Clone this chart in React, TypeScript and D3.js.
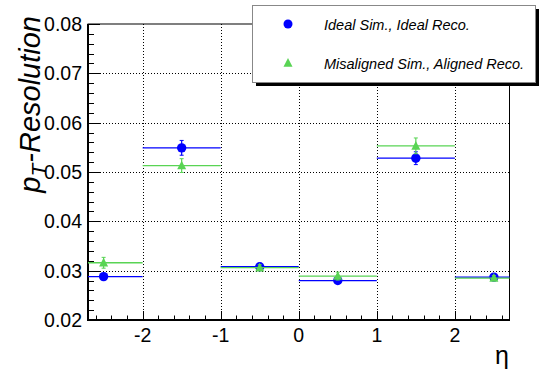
import React from "react";
import * as d3 from "d3";

// eta bins (centre, full width 1) and the two resolution series
const etaCenters = [-2.5, -1.5, -0.5, 0.5, 1.5, 2.5];
const binWidth = 1;
const idealValues = [0.0288, 0.0549, 0.0308, 0.028, 0.0528, 0.0287];
const idealErrors = [0.0005, 0.0015, 0.0005, 0.0005, 0.0013, 0.0004];
const misalignedValues = [0.0316, 0.0513, 0.0306, 0.0289, 0.0553, 0.0285];
const misalignedErrors = [0.0011, 0.0014, 0.0006, 0.0008, 0.0016, 0.0005];

const xTicks = [-2, -1, 0, 1, 2];
const yTicks = [0.02, 0.03, 0.04, 0.05, 0.06, 0.07, 0.08];
const legendLabels = ["Ideal Sim., Ideal Reco.", "Misaligned Sim., Aligned Reco."];

const W = 539;
const H = 380;
const FONT = "'Liberation Sans', Arial, Helvetica, sans-serif";
const BLUE = "#0000ff";
const GREEN = "#59d454";

export default function App() {
  const x = d3.scaleLinear().domain([-2.7, 2.7]).range([88, 509.5]);
  const y = d3.scaleLinear().domain([0.02, 0.08]).range([320, 24]);
  const [x0, x1] = x.range();
  const [y0, y1] = y.range();

  const xMinor = d3.range(-2.6, 2.7, 0.2).map((v) => +v.toFixed(2));
  const yMinor = d3.range(0.02, 0.0801, 0.002).map((v) => +v.toFixed(4));

  const triangle = (cx: number, cy: number, s = 9) =>
    `M${cx},${cy - s * 0.55} L${cx + s / 2},${cy + s * 0.42} L${cx - s / 2},${cy + s * 0.42} Z`;

  const series = [
    { values: idealValues, errors: idealErrors, color: BLUE, marker: "circle" },
    { values: misalignedValues, errors: misalignedErrors, color: GREEN, marker: "triangle" },
  ];

  const clampX = (v: number) => Math.max(x0, Math.min(x1, v));

  return (
    <svg
      width={W}
      height={H}
      style={{ position: "absolute", left: 0, top: 0, background: "#fff" }}
      fontFamily={FONT}
    >
      <rect x={0} y={0} width={W} height={H} fill="#fff" />

      {/* dotted grid */}
      <g stroke="#000" strokeWidth={1} strokeDasharray="1,2">
        {xTicks.map((t) => (
          <line key={"gx" + t} x1={Math.round(x(t)) + 0.5} x2={Math.round(x(t)) + 0.5} y1={y1} y2={y0} />
        ))}
        {yTicks.slice(1, -1).map((t) => (
          <line key={"gy" + t} x1={x0} x2={x1} y1={Math.round(y(t)) + 0.5} y2={Math.round(y(t)) + 0.5} />
        ))}
      </g>

      {/* frame */}
      <rect x={x0} y={y1} width={x1 - x0} height={y0 - y1} fill="none" stroke="#000" strokeWidth={1} />
      <line x1={x0} x2={x0} y1={y1} y2={y0 + 1} stroke="#000" strokeWidth={2} />
      <line x1={x0 - 1} x2={x1 + 0.5} y1={y0} y2={y0} stroke="#000" strokeWidth={2} />

      {/* ticks */}
      <g stroke="#000" strokeWidth={1}>
        {yMinor.map((t) => {
          const major = yTicks.some((m) => Math.abs(m - t) < 1e-6);
          const yy = Math.round(y(t)) + 0.5;
          return <line key={"ty" + t} x1={x0} x2={x0 + (major ? 12 : 6)} y1={yy} y2={yy} />;
        })}
        {xMinor.map((t) => {
          const major = xTicks.some((m) => Math.abs(m - t) < 1e-6);
          const xx = Math.round(x(t)) + 0.5;
          return <line key={"tx" + t} x1={xx} x2={xx} y1={y0} y2={y0 - (major ? 9 : 4.5)} />;
        })}
      </g>

      {/* tick labels */}
      <g fontSize={19.5} fill="#000">
        {yTicks.map((t) => (
          <text key={"ly" + t} x={82} y={y(t) + 7} textAnchor="end">
            {t.toFixed(2)}
          </text>
        ))}
        {xTicks.map((t) => (
          <text key={"lx" + t} x={x(t)} y={342} textAnchor="middle">
            {t < 0 ? "-" + Math.abs(t) : String(t)}
          </text>
        ))}
      </g>

      {/* axis titles */}
      <text x={509} y={364} textAnchor="end" fontSize={25} fill="#000">
        η
      </text>
      <text
        transform="translate(40,16) rotate(-90)"
        textAnchor="end"
        fontSize={29}
        fontStyle="italic"
        fill="#000"
      >
        <tspan>p</tspan>
        <tspan dy={6} fontSize={21}>
          T
        </tspan>
        <tspan dy={-6} dx={1}>-Resolution</tspan>
      </text>

      {/* data */}
      {series.map((s, si) => (
        <g key={"s" + si}>
          {etaCenters.map((c, i) => {
            const v = s.values[i];
            const e = s.errors[i];
            const cy = y(v);
            const cx = x(c);
            return (
              <g key={i}>
                <line
                  x1={clampX(x(c - binWidth / 2))}
                  x2={clampX(x(c + binWidth / 2))}
                  y1={cy}
                  y2={cy}
                  stroke={s.color}
                  strokeWidth={1.3}
                />
                <line x1={cx} x2={cx} y1={y(v + e)} y2={y(v - e)} stroke={s.color} strokeWidth={1.2} />
                <line x1={cx - 2} x2={cx + 2} y1={y(v + e)} y2={y(v + e)} stroke={s.color} strokeWidth={1} />
                <line x1={cx - 2} x2={cx + 2} y1={y(v - e)} y2={y(v - e)} stroke={s.color} strokeWidth={1} />
                {s.marker === "circle" ? (
                  <circle cx={cx} cy={cy} r={4.7} fill={s.color} />
                ) : (
                  <path d={triangle(cx, cy)} fill={s.color} />
                )}
              </g>
            );
          })}
        </g>
      ))}

      {/* legend */}
      <rect x={256} y={9} width={283} height={77} fill="#000" />
      <rect x={252.5} y={5.5} width={283} height={77} fill="#fff" stroke="#888" strokeWidth={1} />
      <circle cx={288} cy={24} r={4.5} fill={BLUE} />
      <path d={triangle(288, 63)} fill={GREEN} />
      <g fontSize={14.5} fontStyle="italic" fill="#000">
        <text x={324} y={30}>
          {legendLabels[0]}
        </text>
        <text x={324} y={69}>
          {legendLabels[1]}
        </text>
      </g>
    </svg>
  );
}
